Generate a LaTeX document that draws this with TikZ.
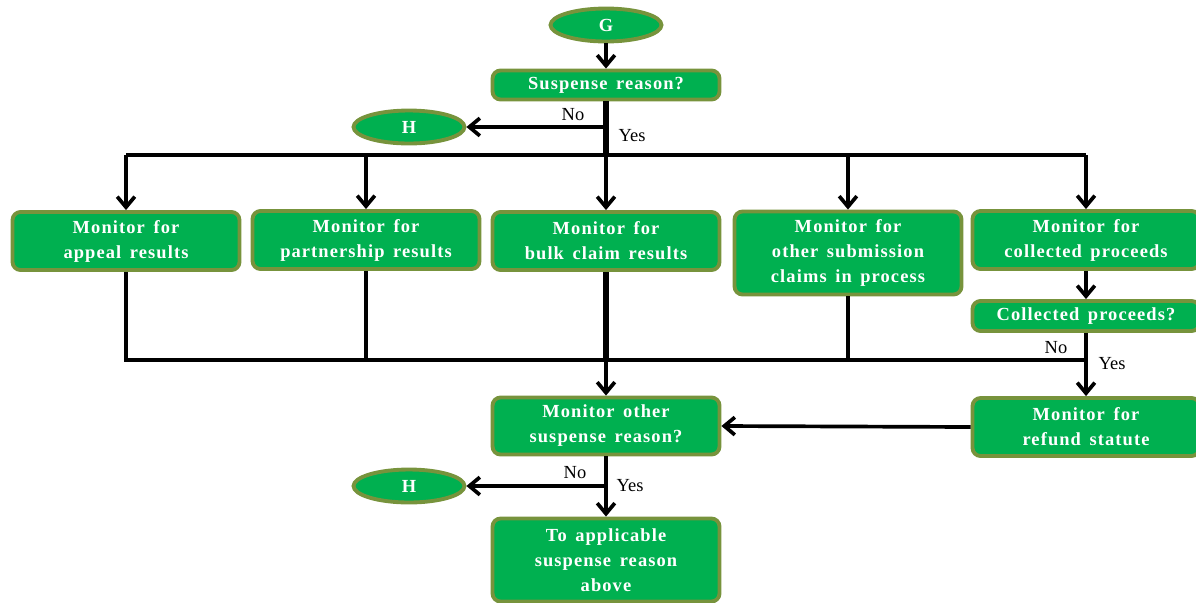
\documentclass[tikz,border=0pt]{standalone}
\usepackage{fontspec}
\setmainfont{Liberation Serif}
\newfontfamily\boxfont{Liberation Serif}[LetterSpace=6,WordSpace=1.5]
\usepackage{tikz}
\usetikzlibrary{shapes.geometric,arrows.meta}
\definecolor{boxFill}{RGB}{0,176,80}
\definecolor{boxEdge}{RGB}{119,147,60}
\newcommand{\flowfont}{\fontsize{10.5}{14.2}\selectfont}

\begin{document}
\begin{tikzpicture}[
  x=0.02cm, y=-0.02cm,
  stepbox/.style={
    rectangle, rounded corners=0.16cm,
    fill=boxFill, draw=boxEdge, line width=2.2pt,
    text=white, font=\boxfont\flowfont\bfseries, align=center,
    minimum width=4.54cm, inner sep=0pt
  },
  terminal/.style={
    ellipse, fill=boxFill, draw=boxEdge, line width=2.2pt,
    text=white, font=\boxfont\flowfont\bfseries,
    minimum width=2.22cm, minimum height=0.66cm, inner sep=0pt
  },
  flow/.style={line width=2.1pt, draw=black},
  flowArrow/.style={flow, -{Straight Barb[length=6pt,width=10pt]}},
  answer/.style={font=\flowfont, inner sep=0pt}
]
\useasboundingbox (0,0) rectangle (1196,602);

% top of the chart
\node[terminal] (g) at (606,25) {G};
\node[stepbox, minimum height=0.58cm] (reason) at (606,85) {Suspense reason?};
\node[terminal] (h1) at (409,127) {H};

% monitor boxes
\node[stepbox, minimum height=1.16cm] (appeal) at (126,241) {Monitor for\\appeal results};
\node[stepbox, minimum height=1.16cm] (partner) at (366,240) {Monitor for\\partnership results};
\node[stepbox, minimum height=1.16cm] (bulk) at (606,241) {Monitor for\\bulk claim results};
\node[stepbox, minimum height=1.66cm] (other) at (848,253) {Monitor for\\other submission\\claims in process};
\node[stepbox, minimum height=1.16cm] (collected) at (1086,240) {Monitor for\\collected proceeds};
\node[stepbox, minimum height=0.6cm] (cpq) at (1086,316) {Collected proceeds?};
\node[stepbox, minimum height=1.16cm] (refund) at (1086,427) {Monitor for\\refund statute};

% bottom of the chart
\node[stepbox, minimum height=1.14cm] (otherq) at (606,426) {Monitor other\\suspense reason?};
\node[terminal] (h2) at (409,486) {H};
\node[stepbox, minimum height=1.66cm] (apply) at (606,560) {To applicable\\suspense reason\\above};

\coordinate (bar) at (606,155);
\coordinate (join) at (606,360);
\coordinate (split1) at (606,127);
\coordinate (split2) at (606,486);

\draw[flowArrow] (g) -- (reason);
\draw[flow, line width=3.4pt] (reason.south) -- (bar);
\draw[flowArrow] (split1) -- (h1.east);
\draw[flow] (appeal.north |- bar) -- (collected.north |- bar);
\draw[flowArrow] (appeal.north |- bar) -- (appeal.north);
\draw[flowArrow] (partner.north |- bar) -- (partner.north);
\draw[flowArrow] (bar) -- (bulk.north);
\draw[flowArrow] (other.north |- bar) -- (other.north);
\draw[flowArrow] (collected.north |- bar) -- (collected.north);
\draw[flowArrow] (collected) -- (cpq);

\draw[flow] (appeal.south) |- (join);
\draw[flow] (partner.south) |- (join);
\draw[flow] (other.south) |- (join);
\draw[flow] (cpq.south |- join) -- (join);
\draw[flow, line width=3.4pt] (bulk.south) -- (join);
\draw[flowArrow] (join) -- (otherq.north);
\draw[flowArrow] (cpq.south) -- (refund.north);
\draw[flowArrow] (refund.west) -- (otherq.east);
\draw[flowArrow] (otherq.south) -- (apply.north);
\draw[flowArrow] (split2) -- (h2.east);

% answers
\node[answer] (no1) at (573,115) {No};
\node[answer] (yes1) at (632,136) {Yes};
\node[answer] (no2) at (1056,348) {No};
\node[answer] (yes2) at (1112,364) {Yes};
\node[answer] (no3) at (575,473) {No};
\node[answer] (yes3) at (630,486) {Yes};
\end{tikzpicture}
\end{document}
